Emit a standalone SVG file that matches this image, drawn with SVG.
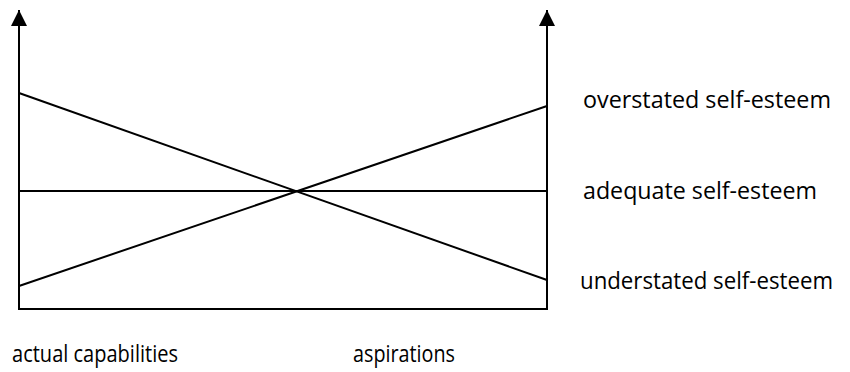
<svg xmlns="http://www.w3.org/2000/svg" width="850" height="372" viewBox="0 0 850 372">
<style>
.ln{stroke:#000;stroke-width:2;fill:none}
.t{font-family:"Open Sans","Liberation Sans",sans-serif;font-size:23px;fill:#000}
</style>
<defs>
<marker id="ah" viewBox="0 0 10 10" refX="10" refY="5" markerWidth="16" markerHeight="16" markerUnits="userSpaceOnUse" orient="auto">
<path d="M0,0 L10,5 L0,10 Z" fill="#000"/>
</marker>
</defs>
<g id="connectors">
<line class="ln" x1="19" y1="310" x2="19" y2="10" marker-end="url(#ah)"/>
<line class="ln" x1="547" y1="310" x2="547" y2="10" marker-end="url(#ah)"/>
<line class="ln" x1="18" y1="309" x2="548" y2="309"/>
<line class="ln" x1="19" y1="93" x2="547" y2="280"/>
<line class="ln" x1="19" y1="286" x2="547" y2="106"/>
<line class="ln" x1="19" y1="191" x2="547" y2="191"/>
</g>
<g id="label-over"><text class="t" x="583" y="108" textLength="248" lengthAdjust="spacingAndGlyphs">overstated self-esteem</text></g>
<g id="label-adequate"><text class="t" x="583" y="199" textLength="234" lengthAdjust="spacingAndGlyphs">adequate self-esteem</text></g>
<g id="label-under"><text class="t" x="580" y="289" textLength="253" lengthAdjust="spacingAndGlyphs">understated self-esteem</text></g>
<g id="label-actual"><text class="t" x="12" y="362" textLength="166" lengthAdjust="spacingAndGlyphs">actual capabilities</text></g>
<g id="label-asp"><text class="t" x="353" y="362" textLength="102" lengthAdjust="spacingAndGlyphs">aspirations</text></g>
</svg>
